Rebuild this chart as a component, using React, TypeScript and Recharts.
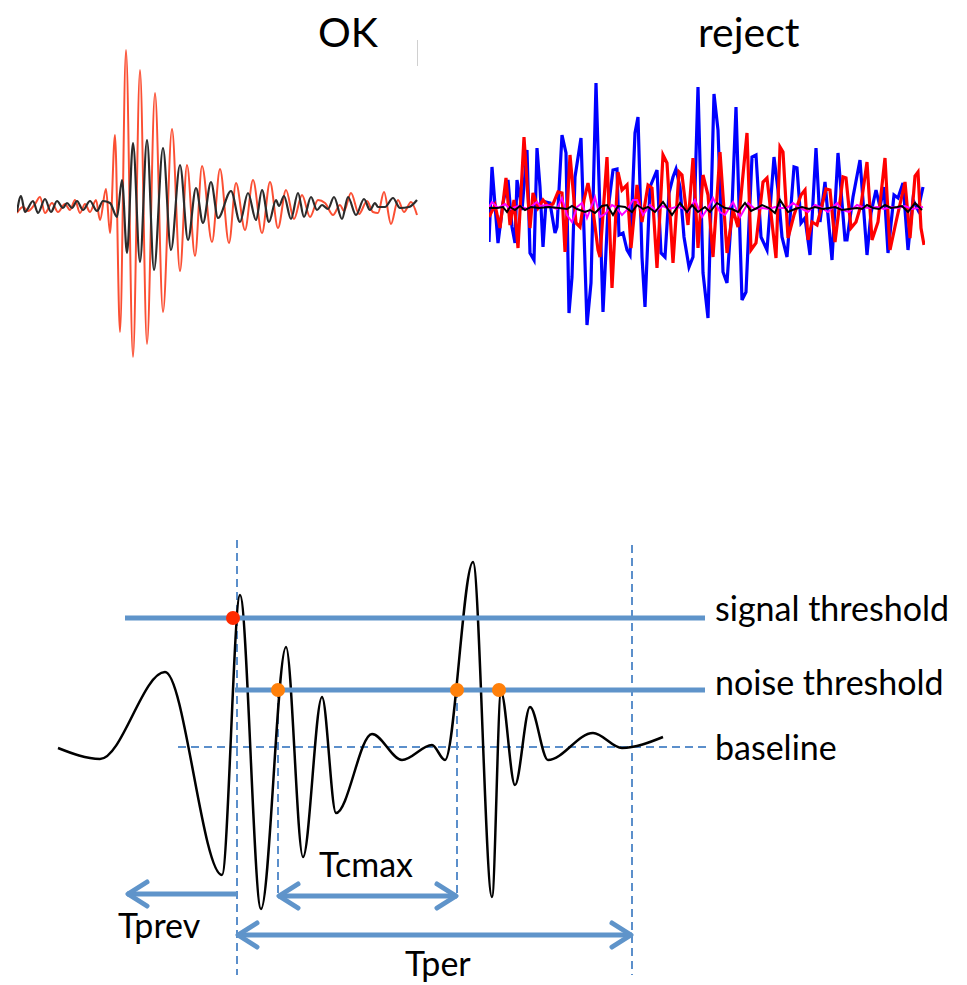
import { LineChart, Line, XAxis, YAxis, ReferenceLine, ReferenceDot } from "recharts";

// Top-left "OK" record: [time sample, amplitude]
const okRed: [number, number][] = [
  [0, -7], [6, -1], [11, -5], [18, 2], [23, 9], [28, -7], [35, 3], [41, -6], [48, 2], [53, -4],
  [58, 6], [63, -7], [68, 2], [73, -6], [79, 6], [83, -14], [89, 17], [93, -27], [98, 71], [103, -126],
  [109, 156], [116, -151], [123, 136], [130, -138], [138, 113], [146, -106], [155, 77], [163, -65], [170, 41], [178, -50],
  [185, 40], [195, -36], [203, 37], [212, -37], [219, 23], [228, -24], [236, 26], [245, -27], [253, 24], [261, -22],
  [269, 16], [277, -13], [285, 11], [293, -11], [301, 6], [308, 3], [316, -9], [323, 1], [327, -5], [334, 13],
  [342, -8], [350, 5], [356, -6], [361, -7], [367, 14], [374, -18], [381, 6], [387, -6], [394, 4], [400, -9]
];
const okBlack: [number, number][] = [
  [0, -6], [4, 10], [8, -6], [16, 5], [21, -7], [28, 7], [34, -6], [40, 5], [46, -2], [50, 3],
  [55, -2], [60, 5], [66, -4], [73, 5], [80, -5], [86, 5], [93, 3], [100, -11], [105, 26], [110, -47],
  [116, 63], [123, -56], [130, 66], [137, -64], [146, 58], [154, -44], [163, 41], [171, -34], [179, 18], [186, -17],
  [194, 24], [201, -12], [214, 15], [223, -16], [231, 13], [239, -14], [245, 16], [252, -16], [259, 6], [262, 0],
  [267, 10], [274, -13], [281, 13], [287, -11], [294, 9], [300, -4], [305, 1], [311, -3], [317, 9], [325, -13],
  [331, 9], [339, -9], [347, 7], [353, -4], [358, 3], [361, -1], [368, -1], [376, 8], [383, -2], [392, -1], [400, 6]
];

// Top-right "reject" record
const rejBlue: [number, number][] = [
  [0, -34], [3, 41], [9, -35], [14, 5], [19, 28], [23, -19], [26, -35], [28, 28], [33, -2], [38, 58],
  [41, -45], [45, -52], [48, 60], [51, 21], [54, -39], [57, 6], [61, 5], [66, -25], [68, -19], [73, 73],
  [77, 55], [80, -105], [83, -69], [86, 31], [92, 70], [98, -117], [102, -75], [107, 125], [114, -104], [119, -2],
  [124, 38], [128, 39], [130, -27], [134, -25], [138, -42], [141, -47], [146, 75], [149, 91], [153, -49], [156, -99],
  [161, 21], [168, 38], [172, -45], [176, -49], [180, 15], [184, 31], [187, 39], [191, 21], [195, -29], [200, -59],
  [204, -49], [209, 121], [214, -65], [219, -110], [225, 114], [229, 78], [234, -64], [238, -75], [243, 1], [247, 101],
  [251, -29], [253, -92], [257, -84], [263, 51], [267, 53], [272, -29], [278, -42], [285, 51], [289, 18], [293, -29],
  [298, -49], [305, 41], [308, 40], [312, -15], [316, -10], [321, -47], [327, 60], [331, -14], [336, 26], [343, -52],
  [349, 55], [356, -32], [358, -32], [364, 11], [371, 48], [378, -47], [382, -5], [387, 18], [391, 1], [395, 21],
  [399, -45], [405, 13], [409, 10], [414, 25], [419, -42], [424, 8], [429, -2], [434, 21]
];
const rejRed: [number, number][] = [
  [0, -9], [6, 3], [11, -20], [17, 30], [21, -17], [25, 8], [29, -40], [35, 71], [41, -20], [44, 15],
  [49, 0], [54, 8], [59, 2], [64, 4], [69, 16], [73, 15], [76, -44], [81, 53], [87, -15], [91, -19],
  [95, 8], [99, 25], [104, -2], [109, -42], [111, -49], [118, 51], [123, -80], [129, 36], [133, 18], [138, 23],
  [142, -40], [148, 23], [153, -14], [159, 23], [163, 20], [168, -60], [174, 53], [178, 45], [184, -55], [190, 36],
  [193, 33], [199, -17], [204, 50], [209, -40], [214, 33], [219, 13], [224, -49], [231, 56], [238, -45], [244, -2],
  [249, -19], [258, 75], [262, -42], [267, -35], [274, 26], [278, 30], [287, -50], [291, 61], [294, 56], [299, -30],
  [305, -7], [312, 13], [316, 18], [319, -32], [323, -14], [328, -17], [337, 19], [341, 18], [346, -34], [354, 31],
  [357, 30], [362, -20], [367, -14], [372, 3], [378, 46], [383, -32], [389, -14], [396, 50], [401, -42], [407, -14],
  [416, 26], [421, -30], [426, 32], [429, 36], [432, -20], [435, -37]
];
const rejMagenta: [number, number][] = [
  [0, 1], [3, 6], [9, 0], [16, 4], [21, -1], [29, 2], [39, -1], [48, 6], [51, 2], [58, 3],
  [68, -1], [73, 10], [78, -7], [83, -14], [88, 1], [93, 5], [98, -10], [103, 3], [106, 11], [111, -9],
  [116, -6], [123, 3], [127, 1], [133, -7], [138, -2], [144, 8], [148, 8], [154, -7], [161, 3], [167, -3],
  [174, 2], [180, -1], [187, 1], [193, 0], [199, -4], [206, 8], [213, -9], [219, 0], [224, 10], [231, -4],
  [236, -7], [244, 6], [251, -9], [259, 5], [266, -1], [273, 0], [280, -1], [286, 1], [292, 0], [298, 0],
  [304, 5], [311, 0], [319, -4], [326, 3], [331, 1], [339, -4], [348, 5], [353, -2], [360, -4], [368, 3],
  [373, 1], [380, 0], [388, 1], [395, -1], [402, 1], [409, 0], [416, 2], [423, -1], [429, 0], [434, 1]
];
const rejBlack: [number, number][] = [
  [0, 0], [8, 0], [14, 1], [18, -4], [21, 1], [26, -2], [31, 2], [36, -2], [42, 1], [50, 0],
  [60, 1], [70, 0], [78, -1], [83, 2], [88, -1], [96, -4], [101, -2], [106, -5], [113, 2], [118, 3],
  [124, -7], [129, 2], [136, 1], [143, -4], [148, 3], [154, -1], [159, 1], [166, -4], [174, 6], [183, -7],
  [191, 5], [198, -4], [203, 3], [209, -4], [216, 1], [221, -4], [228, 5], [236, 0], [243, -1], [249, -4],
  [256, 5], [262, -3], [268, 0], [273, 3], [280, 0], [286, -5], [291, 8], [299, -4], [306, -1], [313, 1],
  [320, -1], [326, 1], [334, -1], [340, 0], [346, 1], [353, -2], [360, -1], [368, 0], [373, -1], [378, 3],
  [384, 0], [390, -1], [396, 3], [402, 0], [408, 1], [413, 2], [419, -4], [426, 5], [433, -2]
];

// Bottom sketch: single trace with thresholds and timing windows
const sketchWave: [number, number][] = [
  [0.8, -0.05], [5.0, -0.6], [11.5, 3.75], [17.2, -6.4], [19.0, 7.6], [21.1, -8.1], [23.6, 5.0], [25.3, -5.5],
  [27.2, 2.5], [28.6, -3.3], [32.2, 0.65], [35.2, -0.65], [38.2, 0.1], [39.5, -0.65], [42.3, 9.25], [44.2, -7.5],
  [45.1, 2.75], [46.5, -1.9], [48.0, 2.0], [49.8, -0.65], [54.3, 0.7], [57.2, -0.05], [61.3, 0.5]
];
const signalThreshold = 6.45;
const noiseThreshold = 2.85;
const signalLine = [7.5, 65.5];
const noiseLine = [18.5, 65.5];
const baselineLine = [12.8, 66];
const tTrigger = 18.7;
const tNoise1 = 22.8;
const tNoise2 = 40.7;
const tEnd = 58.2;
const tPrevStart = 7.7;
const signalHit = 18.3;
const noiseHits = [22.8, 40.7, 44.9];

const rows = (pts: [number, number][]) => pts.map(([t, v]) => ({ t, v }));

const BLUE = "#5f94ca";
const DASH = "#5b8fcb";

function arrowShape(heads: "start" | "end" | "both") {
  return (p: any) => {
    const { x1, y1, x2, y2 } = p;
    const left = Math.min(x1, x2);
    const right = Math.max(x1, x2);
    const y = y1;
    return (
      <g>
        <line x1={left} y1={y} x2={right} y2={y2} stroke={BLUE} strokeWidth={5} />
        {heads !== "end" && (
          <polyline
            points={`${left + 20},${y - 12} ${left + 1},${y} ${left + 20},${y + 12}`}
            fill="none"
            stroke={BLUE}
            strokeWidth={5}
            strokeLinecap="round"
            strokeLinejoin="round"
          />
        )}
        {heads !== "start" && (
          <polyline
            points={`${right - 20},${y - 12} ${right - 1},${y} ${right - 20},${y + 12}`}
            fill="none"
            stroke={BLUE}
            strokeWidth={5}
            strokeLinecap="round"
            strokeLinejoin="round"
          />
        )}
      </g>
    );
  };
}

const labelFont = { fontFamily: "Lato, 'Open Sans', sans-serif", fill: "#000" };

export default function App() {
  return (
    <div style={{ position: "absolute", left: 0, top: 0, width: 967, height: 985, background: "#fff", overflow: "hidden" }}>
      {/* OK */}
      <div style={{ position: "absolute", left: 17, top: 46 }}>
        <LineChart width={402} height={320} margin={{ top: 0, right: 0, bottom: 0, left: 0 }}>
          <XAxis type="number" dataKey="t" domain={[0, 402]} hide />
          <YAxis type="number" dataKey="v" domain={[-160, 160]} hide />
          <Line data={rows(okRed)} dataKey="v" type="monotone" stroke="#fb4f33" strokeWidth={2} dot={false} isAnimationActive={false} />
          <Line data={rows(okBlack)} dataKey="v" type="monotone" stroke="#2b2b2b" strokeWidth={2.2} dot={false} isAnimationActive={false} />
        </LineChart>
      </div>

      {/* reject */}
      <div style={{ position: "absolute", left: 489, top: 78 }}>
        <LineChart width={436} height={260} margin={{ top: 0, right: 0, bottom: 0, left: 0 }}>
          <XAxis type="number" dataKey="t" domain={[0, 436]} hide />
          <YAxis type="number" dataKey="v" domain={[-130, 130]} hide />
          <Line data={rows(rejBlue)} dataKey="v" type="linear" stroke="#0000ff" strokeWidth={3.2} dot={false} isAnimationActive={false} />
          <Line data={rows(rejRed)} dataKey="v" type="linear" stroke="#ff0000" strokeWidth={3.2} dot={false} isAnimationActive={false} />
          <Line data={rows(rejMagenta)} dataKey="v" type="linear" stroke="#ff00ff" strokeWidth={2} dot={false} isAnimationActive={false} />
          <Line data={rows(rejBlack)} dataKey="v" type="linear" stroke="#000000" strokeWidth={2} dot={false} isAnimationActive={false} />
        </LineChart>
      </div>

      <div style={{ position: "absolute", left: 417, top: 40, width: 1, height: 26, background: "#d0d0d0" }} />

      {/* sketch */}
      <div style={{ position: "absolute", left: 50, top: 537 }}>
        <LineChart width={660} height={440} data={rows(sketchWave)} margin={{ top: 0, right: 0, bottom: 0, left: 0 }}>
          <XAxis type="number" dataKey="t" domain={[0, 66]} hide />
          <YAxis type="number" domain={[-11.5, 10.5]} hide />
          <ReferenceLine segment={[{ x: baselineLine[0], y: 0 }, { x: baselineLine[1], y: 0 }]} stroke={DASH} strokeWidth={2} strokeDasharray="8 5" />
          <ReferenceLine segment={[{ x: tTrigger, y: 10.35 }, { x: tTrigger, y: -11.4 }]} stroke={DASH} strokeWidth={2} strokeDasharray="8 5" />
          <ReferenceLine segment={[{ x: tNoise1, y: noiseThreshold }, { x: tNoise1, y: -7.4 }]} stroke={DASH} strokeWidth={2} strokeDasharray="8 5" />
          <ReferenceLine segment={[{ x: tNoise2, y: noiseThreshold }, { x: tNoise2, y: -7.4 }]} stroke={DASH} strokeWidth={2} strokeDasharray="8 5" />
          <ReferenceLine segment={[{ x: tEnd, y: 10.1 }, { x: tEnd, y: -11.4 }]} stroke={DASH} strokeWidth={2} strokeDasharray="8 5" />
          <Line dataKey="v" type="monotone" stroke="#000" strokeWidth={2.5} dot={false} isAnimationActive={false} />
          <ReferenceLine segment={[{ x: signalLine[0], y: signalThreshold }, { x: signalLine[1], y: signalThreshold }]} stroke={BLUE} strokeWidth={5} />
          <ReferenceLine segment={[{ x: noiseLine[0], y: noiseThreshold }, { x: noiseLine[1], y: noiseThreshold }]} stroke={BLUE} strokeWidth={5} />
          <ReferenceLine segment={[{ x: tPrevStart, y: -7.35 }, { x: tTrigger, y: -7.35 }]} shape={arrowShape("start")} />
          <ReferenceLine segment={[{ x: tNoise1, y: -7.45 }, { x: tNoise2, y: -7.45 }]} shape={arrowShape("both")} />
          <ReferenceLine segment={[{ x: tTrigger, y: -9.4 }, { x: tEnd, y: -9.4 }]} shape={arrowShape("both")} />
          <ReferenceDot x={signalHit} y={signalThreshold} r={7} fill="#ff2a00" stroke="none" />
          {noiseHits.map((t) => (
            <ReferenceDot key={t} x={t} y={noiseThreshold} r={7} fill="#ff800a" stroke="none" />
          ))}
        </LineChart>
      </div>

      <svg width={967} height={985} style={{ position: "absolute", left: 0, top: 0, pointerEvents: "none" }}>
        <text x={318} y={47} fontSize={41} {...labelFont}>OK</text>
        <text x={698} y={47} fontSize={41} {...labelFont}>reject</text>
        <text x={715} y={621} fontSize={34} {...labelFont}>signal threshold</text>
        <text x={715} y={695} fontSize={34} {...labelFont}>noise threshold</text>
        <text x={715} y={760} fontSize={34} {...labelFont}>baseline</text>
        <text x={118} y={938} fontSize={34} {...labelFont}>Tprev</text>
        <text x={319} y={877} fontSize={34} {...labelFont}>Tcmax</text>
        <text x={405} y={976} fontSize={34} {...labelFont}>Tper</text>
      </svg>
    </div>
  );
}
